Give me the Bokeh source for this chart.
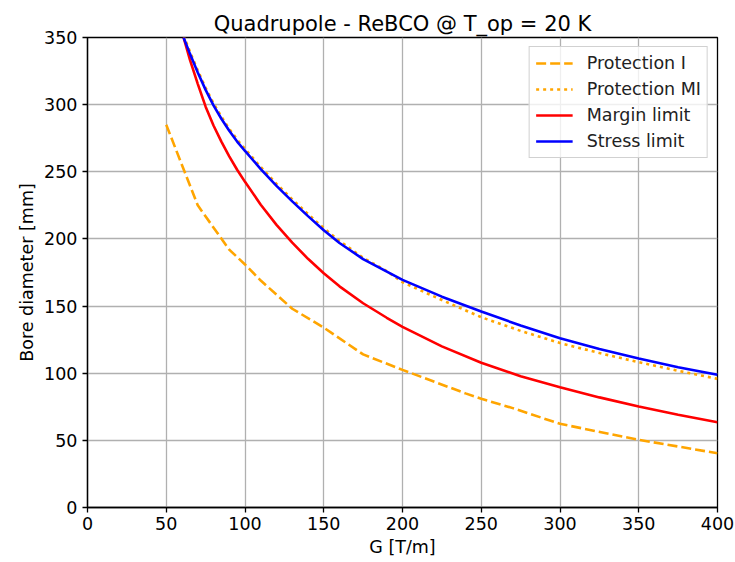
from bokeh.plotting import figure
from bokeh.models import Range1d, FixedTicker, Legend, LegendItem
from bokeh.embed import file_html
from bokeh.resources import INLINE

# Protection I (dashed)
g_prot_i = [50, 70, 90, 100, 110, 130, 150, 175, 200, 240, 250, 270, 300, 350, 400]
d_prot_i = [285, 225, 192, 181, 169, 148, 134, 114, 102.5, 85, 81, 74, 62.3, 50.4, 40.4]

# Protection MI (dotted)
g_prot_mi = [61, 65, 70, 75, 80, 85, 90, 95, 100, 110, 120, 130, 140, 150, 160, 175, 190, 200, 225, 250, 275, 300, 325, 350, 375, 400]
d_prot_mi = [351.5, 339.5, 325.5, 312.5, 301, 291, 282, 274, 267, 253.5, 241, 229.5, 218.5, 208, 198.5, 186, 176, 167.8, 154.5, 141.7, 131.5, 122.5, 115, 108.2, 101.8, 95.8]

# Margin limit (red)
g_margin = [61, 65, 70, 75, 80, 85, 90, 95, 100, 110, 120, 130, 140, 150, 160, 175, 190, 200, 225, 250, 275, 300, 325, 350, 375, 400]
d_margin = [350, 333.5, 315.5, 298.5, 284.5, 272.5, 261.5, 251.5, 242.5, 225.5, 210.5, 197.2, 185.2, 174.4, 164.7, 152.1, 141.3, 134.5, 120, 107.8, 97.8, 89.6, 82, 75.2, 69, 63.5]

# Stress limit (blue)
g_stress = [61, 65, 70, 75, 80, 85, 90, 95, 100, 110, 120, 130, 140, 150, 160, 175, 200, 225, 250, 275, 300, 325, 350, 375, 400]
d_stress = [350, 338, 324, 311, 299.5, 289.5, 280.5, 272.5, 265.5, 252, 239.5, 228, 217, 206.5, 197, 185, 169.5, 157, 146, 135.5, 126, 118, 111, 104.5, 98.8]

x_ticks = [0, 50, 100, 150, 200, 250, 300, 350, 400]
y_ticks = [0, 50, 100, 150, 200, 250, 300, 350]

FONT = "DejaVu Sans"
FS = "17.5px"

p = figure(width=735, height=562, output_backend="svg", toolbar_location=None,
           x_range=Range1d(0, 400), y_range=Range1d(0, 350),
           min_border_left=87, min_border_right=18, min_border_top=37, min_border_bottom=55,
           title="Quadrupole - ReBCO @ T_op = 20 K")

p.title.align = "center"
p.title.text_font = FONT
p.title.text_font_size = "21px"
p.title.text_font_style = "normal"
p.title.text_color = "black"
p.title.standoff = 4

p.outline_line_color = "black"
p.outline_line_width = 1.3
p.outline_line_alpha = 1

for ax, ticks, label in ((p.xaxis[0], x_ticks, "G [T/m]"), (p.yaxis[0], y_ticks, "Bore diameter [mm]")):
    ax.ticker = FixedTicker(ticks=ticks)
    ax.axis_label = label
    ax.axis_label_text_font = FONT
    ax.axis_label_text_font_size = FS
    ax.axis_label_text_font_style = "normal"
    ax.axis_label_text_color = "black"
    ax.major_label_text_font = FONT
    ax.major_label_text_font_size = FS
    ax.major_label_text_color = "black"
    ax.major_tick_out = 5
    ax.major_tick_in = 0
    ax.minor_tick_out = 0
    ax.minor_tick_in = 0
    ax.axis_line_color = "black"
    ax.axis_line_width = 1.3
    ax.major_tick_line_color = "black"
    ax.major_tick_line_width = 1.3
    ax.axis_label_standoff = 4

p.xaxis.major_label_standoff = 4
p.yaxis.major_label_standoff = 5

p.grid.grid_line_color = "#b0b0b0"
p.grid.grid_line_width = 1.3
p.xgrid.ticker = FixedTicker(ticks=x_ticks)
p.ygrid.ticker = FixedTicker(ticks=y_ticks)

lw = 2.6
r1 = p.line(g_prot_i, d_prot_i, line_color="orange", line_width=lw, line_dash="10 4")
r2 = p.line(g_prot_mi, d_prot_mi, line_color="orange", line_width=lw, line_dash="3 4")
r3 = p.line(g_margin, d_margin, line_color="red", line_width=lw)
r4 = p.line(g_stress, d_stress, line_color="blue", line_width=lw)

legend = Legend(items=[
    LegendItem(label="Protection I", renderers=[r1]),
    LegendItem(label="Protection MI", renderers=[r2]),
    LegendItem(label="Margin limit", renderers=[r3]),
    LegendItem(label="Stress limit", renderers=[r4]),
], location="top_right")
legend.label_text_font = FONT
legend.label_text_font_size = FS
legend.label_text_color = "#222222"
legend.glyph_width = 37
legend.glyph_height = 20
legend.label_height = 20
legend.label_standoff = 14
legend.spacing = 6
legend.padding = 6
legend.margin = 9
legend.border_line_color = "#cccccc"
legend.border_line_alpha = 0.9
legend.background_fill_alpha = 0.8
p.add_layout(legend)

open("out.html", "w").write(file_html(p, INLINE))
